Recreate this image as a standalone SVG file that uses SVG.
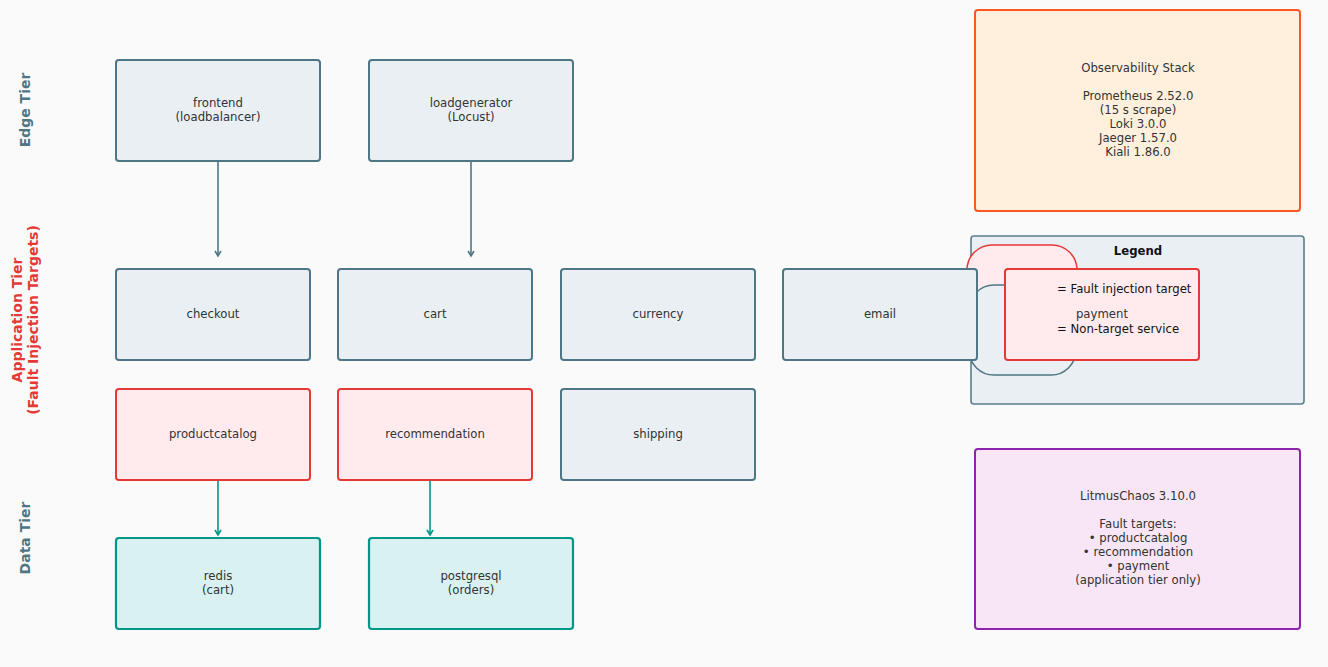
<svg xmlns="http://www.w3.org/2000/svg" width="1328" height="667" viewBox="0 0 1328 667">
<defs>
<style>
text{font-family:"DejaVu Sans","Liberation Sans",sans-serif;font-size:11.7px;fill:#333;}
.c{text-anchor:middle;}
.grey{fill:#eaeff3;stroke:#4f7684;stroke-width:2;}
.red{fill:#ffebee;stroke:#e53935;stroke-width:2;}
.teal{fill:#d9f2f1;stroke:#009688;stroke-width:2.2;}
.tier{font-size:14px;font-weight:bold;text-anchor:middle;}
.e1{stroke:#4f7684;stroke-width:1.6;fill:none;}
.e2{stroke:#009688;stroke-width:1.6;fill:none;}
</style>
<marker id="a1" markerWidth="10" markerHeight="10" refX="5" refY="7" markerUnits="userSpaceOnUse" viewBox="0 0 10 10">
<polyline points="2,2 5,7 8,2" fill="none" stroke="#4f7684" stroke-width="1.6"/>
</marker>
<marker id="a2" markerWidth="10" markerHeight="10" refX="5" refY="7" markerUnits="userSpaceOnUse" viewBox="0 0 10 10">
<polyline points="2,2 5,7 8,2" fill="none" stroke="#009688" stroke-width="1.6"/>
</marker>
</defs>
<rect x="0" y="0" width="1328" height="667" fill="#fafafa"/>

<g id="tier-labels">
<text class="tier" transform="translate(30,110) rotate(-90)" style="fill:#4f7684">Edge Tier</text>
<text class="tier" transform="translate(22,320) rotate(-90)" style="fill:#e53935">Application Tier</text>
<text class="tier" transform="translate(38,320) rotate(-90)" style="fill:#e53935">(Fault Injection Targets)</text>
<text class="tier" transform="translate(30,538) rotate(-90)" style="fill:#4f7684">Data Tier</text>
</g>

<g id="connectors">
<line class="e1" x1="218" y1="161" x2="218" y2="256" marker-end="url(#a1)"/>
<line class="e1" x1="471" y1="161" x2="471" y2="256" marker-end="url(#a1)"/>
<line class="e2" x1="218" y1="480" x2="218" y2="535" marker-end="url(#a2)"/>
<line class="e2" x1="430" y1="480" x2="430" y2="535" marker-end="url(#a2)"/>
</g>

<g id="frontend"><rect class="grey" x="116" y="60" width="204" height="101" rx="3"/>
<text class="c" x="218" y="107">frontend</text><text class="c" x="218" y="121">(loadbalancer)</text></g>
<g id="loadgenerator"><rect class="grey" x="369" y="60" width="204" height="101" rx="3"/>
<text class="c" x="471" y="107">loadgenerator</text><text class="c" x="471" y="121">(Locust)</text></g>

<g id="checkout"><rect class="grey" x="116" y="269" width="194" height="91" rx="3"/><text class="c" x="213" y="318">checkout</text></g>
<g id="cart"><rect class="grey" x="338" y="269" width="194" height="91" rx="3"/><text class="c" x="435" y="318">cart</text></g>
<g id="currency"><rect class="grey" x="561" y="269" width="194" height="91" rx="3"/><text class="c" x="658" y="318">currency</text></g>

<g id="observability"><rect x="975" y="10" width="325" height="201" rx="3" fill="#fff0de" stroke="#ff5722" stroke-width="2"/>
<text class="c" x="1138" y="72">Observability Stack</text>
<text class="c" x="1138" y="100">Prometheus 2.52.0</text>
<text class="c" x="1138" y="114">(15 s scrape)</text>
<text class="c" x="1138" y="128">Loki 3.0.0</text>
<text class="c" x="1138" y="142">Jaeger 1.57.0</text>
<text class="c" x="1138" y="156">Kiali 1.86.0</text></g>

<g id="legend"><rect x="971" y="236" width="333" height="168" rx="3" fill="#eaeff3" stroke="#5a7f8c" stroke-width="1.6"/>
<text class="c" x="1138" y="255" style="font-weight:bold;fill:#111">Legend</text>
<rect x="967" y="245" width="110" height="90" rx="25" fill="#ffebee" stroke="#e53935" stroke-width="1.5"/>
<rect x="969" y="285" width="107" height="90" rx="25" fill="#eaeff3" stroke="#4f7684" stroke-width="1.5"/></g>

<g id="email"><rect class="grey" x="783" y="269" width="194" height="91" rx="3"/><text class="c" x="880" y="318">email</text></g>

<g id="payment"><rect class="red" x="1005" y="269" width="194" height="91" rx="3"/>
<text x="1057" y="293" style="fill:#111">= Fault injection target</text>
<text class="c" x="1102" y="318">payment</text>
<text x="1057" y="333" style="fill:#111">= Non-target service</text></g>

<g id="productcatalog"><rect class="red" x="116" y="389" width="194" height="91" rx="3"/><text class="c" x="213" y="438">productcatalog</text></g>
<g id="recommendation"><rect class="red" x="338" y="389" width="194" height="91" rx="3"/><text class="c" x="435" y="438">recommendation</text></g>
<g id="shipping"><rect class="grey" x="561" y="389" width="194" height="91" rx="3"/><text class="c" x="658" y="438">shipping</text></g>

<g id="redis"><rect class="teal" x="116" y="538" width="204" height="91" rx="3"/>
<text class="c" x="218" y="580">redis</text><text class="c" x="218" y="594">(cart)</text></g>
<g id="postgresql"><rect class="teal" x="369" y="538" width="204" height="91" rx="3"/>
<text class="c" x="471" y="580">postgresql</text><text class="c" x="471" y="594">(orders)</text></g>

<g id="litmus"><rect x="975" y="449" width="325" height="180" rx="3" fill="#f8e6f6" stroke="#8e24aa" stroke-width="2"/>
<text class="c" x="1138" y="500">LitmusChaos 3.10.0</text>
<text class="c" x="1138" y="528">Fault targets:</text>
<text class="c" x="1138" y="542">• productcatalog</text>
<text class="c" x="1138" y="556">• recommendation</text>
<text class="c" x="1138" y="570">• payment</text>
<text class="c" x="1138" y="584">(application tier only)</text></g>
</svg>
